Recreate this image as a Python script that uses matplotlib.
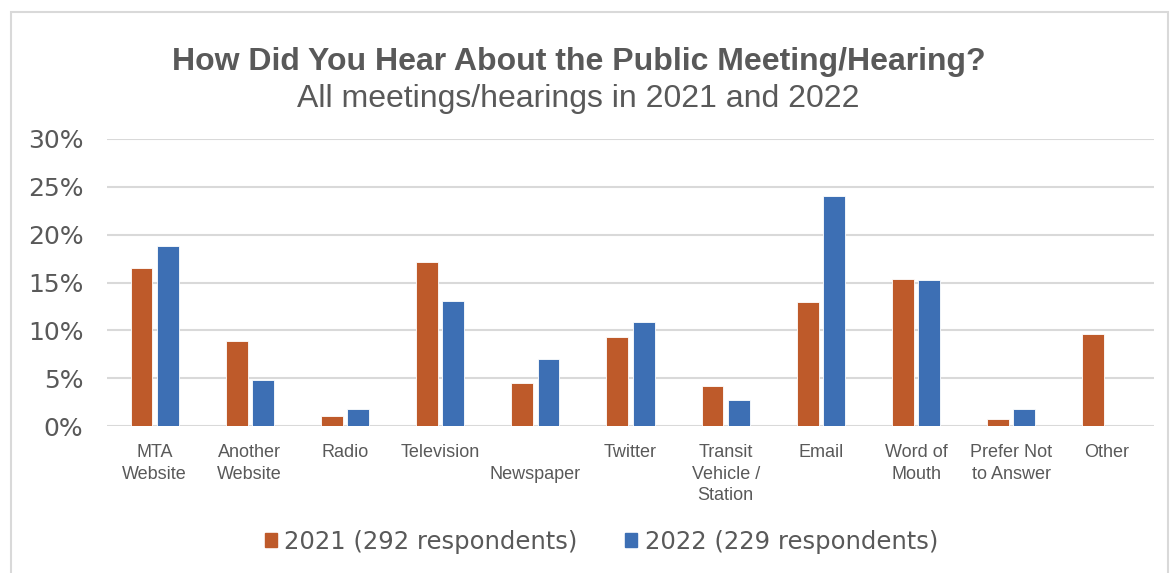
import matplotlib.pyplot as plt
from matplotlib.patches import Rectangle, Patch
from matplotlib.ticker import FuncFormatter
import numpy as np

categories = ["MTA\nWebsite", "Another\nWebsite", "Radio", "Television", "\nNewspaper",
              "Twitter", "Transit\nVehicle /\nStation", "Email", "Word of\nMouth",
              "Prefer Not\nto Answer", "Other"]
pct_2021 = [16.5, 8.9, 1.05, 17.1, 4.5, 9.3, 4.15, 13.0, 15.4, 0.7, 9.6]
pct_2022 = [18.8, 4.8, 1.8, 13.1, 7.0, 10.9, 2.7, 24.0, 15.3, 1.8, 0.0]
label_2021 = "2021 (292 respondents)"
label_2022 = "2022 (229 respondents)"

orange = "#BE5A2A"
blue = "#3D6FB4"
gray = "#595959"

W, H = 1170, 573
fig = plt.figure(figsize=(W / 100, H / 100), dpi=100)

# light frame around the chart, open at the bottom like the screenshot
fig.patches.append(Rectangle((11 / W, -0.05), (1168 - 11) / W, (H - 12) / H + 0.05,
                             transform=fig.transFigure, fill=False,
                             edgecolor="#D9D9D9", linewidth=1.5))

ax = fig.add_axes([107 / W, (H - 426) / H, (1154 - 107) / W, (426 - 139) / H])

x = np.arange(len(categories))
w = 0.23
off = 0.138
ax.bar(x - off, pct_2021, w, color=orange, edgecolor="white", linewidth=0.6, zorder=3)
ax.bar(x + off, pct_2022, w, color=blue, edgecolor="white", linewidth=0.6, zorder=3)

ax.set_xlim(-0.5, len(categories) - 0.5)
ax.set_ylim(0, 30)
ax.set_yticks(range(0, 31, 5))
ax.yaxis.set_major_formatter(FuncFormatter(lambda v, p: f"{int(v)}%"))
ax.grid(axis="y", color="#D9D9D9", linewidth=1.5, zorder=0)
for s in ax.spines.values():
    s.set_visible(False)
ax.tick_params(axis="y", length=0, pad=17, labelsize=18, labelcolor=gray)
ax.tick_params(axis="x", length=0, pad=13)
ax.set_xticks(x)
ax.set_xticklabels(categories, fontsize=13, color=gray, family="Liberation Sans",
                   linespacing=1.35, va="top")

fig.text(0.5 * (173 + 985) / W, 1 - 62 / H, "How Did You Hear About the Public Meeting/Hearing?",
         ha="center", va="center", fontsize=23, fontweight="bold", color=gray,
         family="Liberation Sans")
fig.text(0.5 * (298 + 858) / W, 1 - 99 / H, "All meetings/hearings in 2021 and 2022",
         ha="center", va="center", fontsize=23, color=gray, family="Liberation Sans")

handles = [Patch(color=orange, label=label_2021), Patch(color=blue, label=label_2022)]
fig.legend(handles=handles, loc="center", bbox_to_anchor=(0.5 * (265 + 938) / W, 1 - 542 / H),
           ncol=2, frameon=False, fontsize=17.5, labelcolor=gray,
           handlelength=0.5, handleheight=0.5, handletextpad=0.3, columnspacing=1.95)

fig.savefig("out.png", dpi=100)
